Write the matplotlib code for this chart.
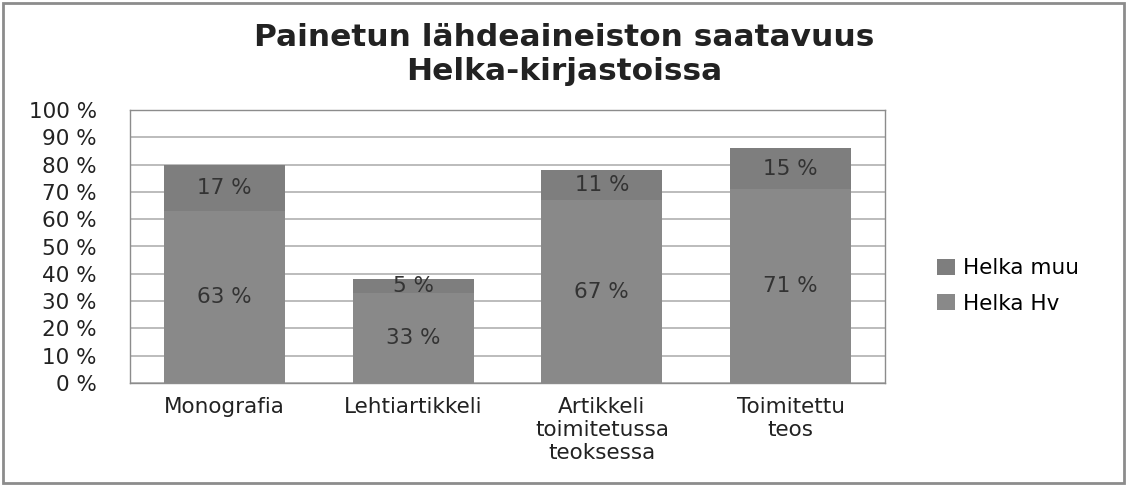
import numpy as np
from matplotlib import pyplot as plt
from matplotlib.patches import Rectangle

categories = ['Monografia', 'Lehtiartikkeli', 'Artikkeli\ntoimitetussa\nteoksessa', 'Toimitettu\nteos']
helka_hv = [63, 33, 67, 71]
helka_muu = [17, 5, 11, 15]

plt.rcParams['font.family'] = ['DejaVu Sans']

fig = plt.figure(figsize=(11.28, 4.86), dpi=100)
ax = fig.add_axes([130 / 1128, 1 - 383 / 486, 755 / 1128, 273 / 486])

# figure border
fig.patches.append(Rectangle((3 / 1128, 3 / 486), 1121 / 1128, 480 / 486,
                             transform=fig.transFigure, fill=False,
                             edgecolor='#8c8c8c', linewidth=2))

x = np.arange(len(categories))
width = 0.64
b1 = ax.bar(x, helka_hv, width, color='#898989', label='Helka Hv', zorder=3)
b2 = ax.bar(x, helka_muu, width, bottom=helka_hv, color='#7e7e7e', label='Helka muu', zorder=3)

for i in range(len(x)):
    ax.text(x[i], helka_hv[i] / 2, f'{helka_hv[i]} %', ha='center', va='center',
            fontsize=15.5, color='#333333', zorder=4)
    ax.text(x[i], helka_hv[i] + helka_muu[i] / 2, f'{helka_muu[i]} %', ha='center',
            va='center', fontsize=15.5, color='#333333', zorder=4)

ax.set_xlim(-0.5, len(categories) - 0.5)
ax.set_ylim(0, 100)
ax.set_yticks(range(0, 101, 10))
ax.set_yticklabels([f'{v} %' for v in range(0, 101, 10)], fontsize=15.5, color='#222222')
ax.set_xticks(x)
ax.set_xticklabels(categories, fontsize=15.5, color='#222222', linespacing=1.2)
ax.tick_params(axis='y', length=0, pad=24)
ax.tick_params(axis='x', length=0, pad=10)
ax.yaxis.grid(True, color='#b0b0b0', linewidth=1.2, zorder=0)
for s in ax.spines.values():
    s.set_color('#8c8c8c')
    s.set_linewidth(1)

fig.text(0.5, 1 - 37 / 486, 'Painetun lähdeaineiston saatavuus',
         ha='center', va='center', fontsize=22.5, fontweight='bold', color='#222222')
fig.text(0.5, 1 - 72 / 486, 'Helka-kirjastoissa',
         ha='center', va='center', fontsize=22.5, fontweight='bold', color='#222222')

handles = [b2, b1]
leg = fig.legend(handles, ['Helka muu', 'Helka Hv'], loc='center left',
                 bbox_to_anchor=(918 / 1128, 1 - 286 / 486), frameon=False,
                 fontsize=15.5, handlelength=0.8, handleheight=0.8, labelspacing=0.7,
                 handletextpad=0.4)

fig.savefig('out.png', dpi=100)
